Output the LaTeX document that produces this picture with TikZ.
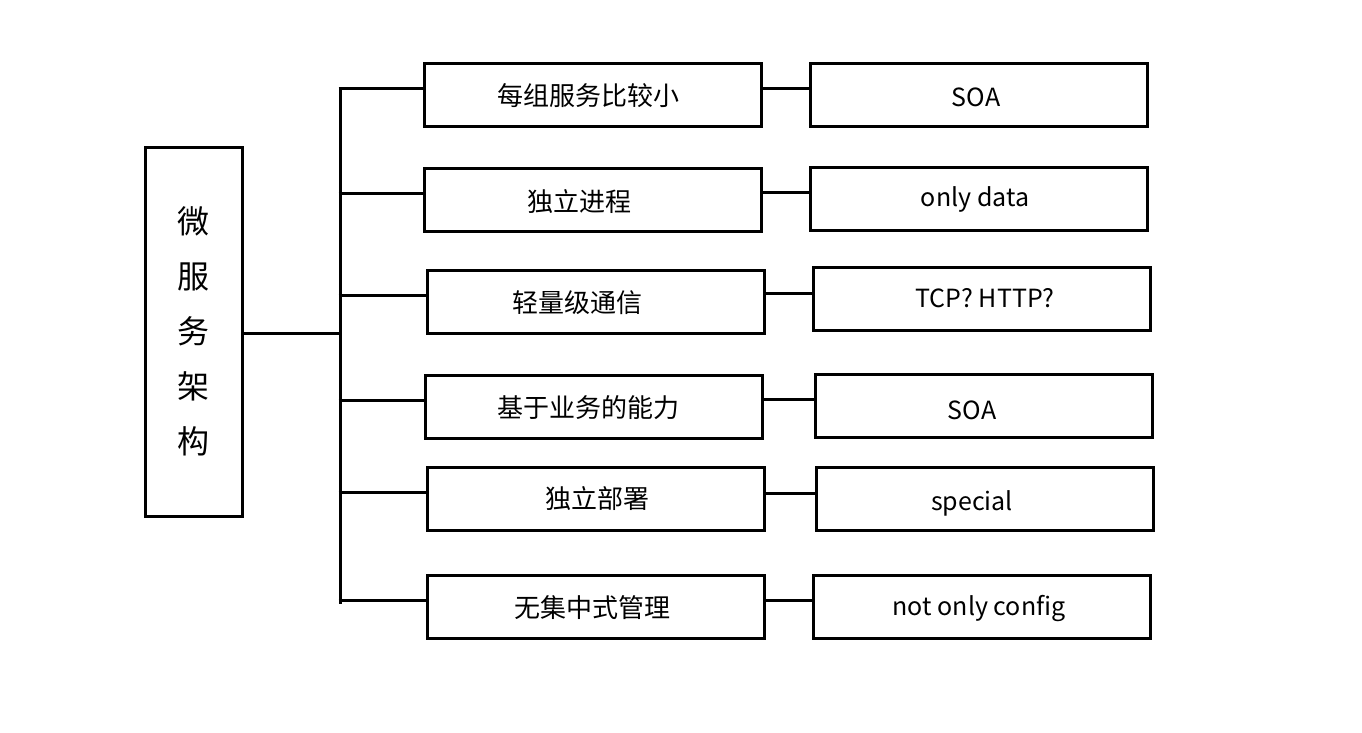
\documentclass[tikz,border=0pt]{standalone}
\usepackage{fontspec}
\setmainfont{Noto Sans CJK SC}
\begin{document}
\begin{tikzpicture}[x=1pt,y=-1pt,
  box/.style={draw=black,line width=3pt,minimum height=63pt,inner sep=0pt},
  wire/.style={line width=3pt,line cap=butt},
  mtxt/.style={font=\fontsize{26}{30}\selectfont},
  ltxt/.style={font=\fontsize{25}{30}\selectfont}]
\useasboundingbox (0,0) rectangle (1362,732);
% root
\node[draw=black,line width=3pt,minimum width=97pt,minimum height=369pt,inner sep=0pt,
  align=center,font=\fontsize{32}{55}\selectfont] (root) at (193.5,331.5) {微\\服\\务\\架\\构};
% middle boxes
\node[box,minimum width=337pt] (m1) at (592.5,94.5) {};
\node[box,minimum width=337pt] (m2) at (592.5,199.5) {};
\node[box,minimum width=337pt] (m3) at (595.5,301.5) {};
\node[box,minimum width=337pt] (m4) at (593.5,406.5) {};
\node[box,minimum width=337pt] (m5) at (595.5,498.5) {};
\node[box,minimum width=337pt] (m6) at (595.5,606.5) {};
\node[mtxt] (t1) at (588,96) {每组服务比较小};
\node[mtxt] (t2) at (579,202) {独立进程};
\node[mtxt] (t3) at (577,303) {轻量级通信};
\node[mtxt] (t4) at (588,408) {基于业务的能力};
\node[mtxt] (t5) at (597,499) {独立部署};
\node[mtxt] (t6) at (592,608) {无集中式管理};
% right boxes
\node[box,minimum width=337pt] (r1) at (978.5,94.5) {};
\node[box,minimum width=337pt] (r2) at (978.5,198.5) {};
\node[box,minimum width=337pt] (r3) at (981.5,298.5) {};
\node[box,minimum width=337pt] (r4) at (983.5,405.5) {};
\node[box,minimum width=337pt] (r5) at (984.5,499) {};
\node[box,minimum width=337pt] (r6) at (981.5,606.5) {};
\node[ltxt] (u1) at (976,97) {SOA};
\node[ltxt] (u2) at (975,199) {only data};
\node[ltxt] (u3) at (985,298) {TCP? HTTP?};
\node[ltxt] (u4) at (972,410) {SOA};
\node[ltxt] (u5) at (972,503) {special};
\node[ltxt] (u6) at (979,608) {not only config};
% trunk
\coordinate (top) at (340,87);
\coordinate (bot) at (340,604);
\coordinate (j0) at (340,333);
\draw[wire] (top) -- (bot);
\draw[wire] (root.east |- j0) -- (j0);
\coordinate (j1) at (338.5,88);
\coordinate (j2) at (338.5,193);
\coordinate (j3) at (338.5,295);
\coordinate (j4) at (338.5,400);
\coordinate (j5) at (338.5,492);
\coordinate (j6) at (338.5,600);
\draw[wire] (j1) -- (m1.west |- j1);
\draw[wire] (j2) -- (m2.west |- j2);
\draw[wire] (j3) -- (m3.west |- j3);
\draw[wire] (j4) -- (m4.west |- j4);
\draw[wire] (j5) -- (m5.west |- j5);
\draw[wire] (j6) -- (m6.west |- j6);
% middle to right
\draw[wire] (m1.east |- 0,88) -- (r1.west |- 0,88);
\draw[wire] (m2.east |- 0,192) -- (r2.west |- 0,192);
\draw[wire] (m3.east |- 0,293) -- (r3.west |- 0,293);
\draw[wire] (m4.east |- 0,399) -- (r4.west |- 0,399);
\draw[wire] (m5.east |- 0,493) -- (r5.west |- 0,493);
\draw[wire] (m6.east |- 0,600) -- (r6.west |- 0,600);
\end{tikzpicture}
\end{document}
